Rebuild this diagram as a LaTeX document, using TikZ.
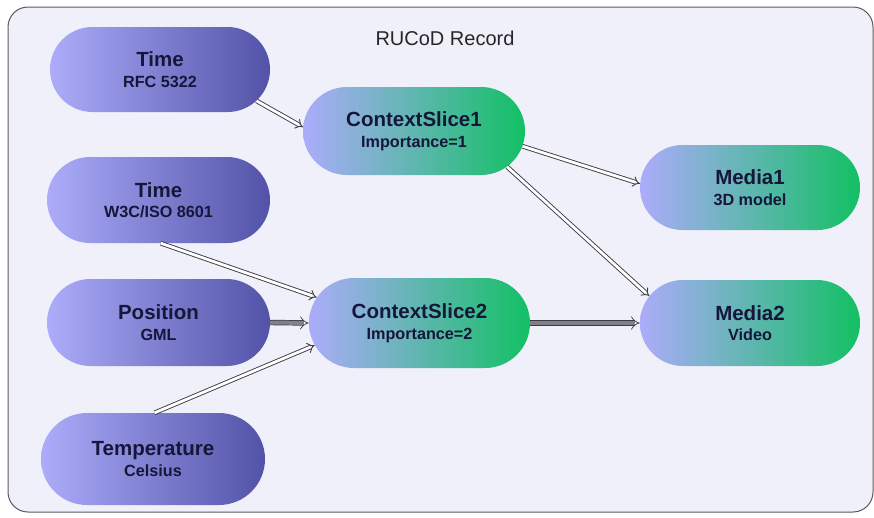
\documentclass[tikz,border=0pt]{standalone}
\usepackage{fontspec}
\setmainfont{Liberation Sans}
\usetikzlibrary{shapes.misc,arrows.meta}
\definecolor{bgfill}{RGB}{240,240,250}
\definecolor{bgline}{RGB}{90,90,95}
\definecolor{lavL}{RGB}{172,172,250}
\definecolor{slateR}{RGB}{82,82,168}
\definecolor{greenR}{RGB}{18,192,100}
\definecolor{txt}{RGB}{22,22,58}
\definecolor{arrline}{RGB}{60,60,66}
\definecolor{arrfill}{RGB}{128,128,136}
\tikzset{
  pill/.style={rounded rectangle, inner sep=0pt, minimum width=222pt, minimum height=87pt,
    align=center, text=txt, font=\bfseries\fontsize{16.2}{20.5}\selectfont},
  srcnode/.style={pill, left color=lavL, right color=slateR},
  dstnode/.style={pill, left color=lavL, right color=greenR},
  hollowarrow/.style={draw=arrline, double=white, double distance=2.8pt, line width=0.9pt, -{Implies}},
  solidarrow/.style={draw=arrline, double=arrfill, double distance=4pt, line width=0.7pt, -{Implies}},
}
\newcommand{\lbl}[2]{{\fontsize{20.5}{22}\selectfont #1}\\{#2}}
\begin{document}
\begin{tikzpicture}[x=1pt,y=-1pt]
\useasboundingbox (0,0) rectangle (874,517);
\draw[fill=bgfill, draw=bgline, line width=1pt, rounded corners=20pt] (8,7) rectangle (873,512);
\node[font=\fontsize{20}{22}\selectfont, text=black!85] (title) at (445,38) {RUCoD Record};

\node[srcnode, minimum width=220pt, minimum height=85pt] (t1) at (160,69.5) {\lbl{Time}{RFC 5322}};
\node[srcnode, minimum width=223pt, minimum height=86pt] (t2) at (158.5,200) {\lbl{Time}{W3C/ISO 8601}};
\node[srcnode, minimum width=223pt] (pos) at (158.5,322.5) {\lbl{Position}{GML}};
\node[srcnode, minimum width=224pt, minimum height=92pt] (temp) at (153,459) {\lbl{Temperature}{Celsius}};

\node[dstnode, minimum height=88pt] (cs1) at (414,131) {\lbl{ContextSlice1}{Importance=1}};
\node[dstnode, minimum width=221pt, minimum height=90pt] (cs2) at (419.5,323) {\lbl{ContextSlice2}{Importance=2}};
\node[dstnode, minimum width=220pt, minimum height=85pt] (m1) at (750,187.5) {\lbl{Media1}{3D model}};
\node[dstnode, minimum width=220pt, minimum height=86pt] (m2) at (750,323) {\lbl{Media2}{Video}};

\draw[hollowarrow] (t1.-18) -- (cs1.178);
\draw[hollowarrow] (t2.-87) -- (cs2.166);
\draw[solidarrow] (pos.east) -- (cs2.west);
\draw[hollowarrow] (temp.88) -- (cs2.-168);
\draw[hollowarrow] (cs1.-8) -- (m1.178);
\draw[hollowarrow] (cs1.-21) -- (m2.165);
\draw[solidarrow] (cs2.east) -- (m2.west);
\end{tikzpicture}
\end{document}
